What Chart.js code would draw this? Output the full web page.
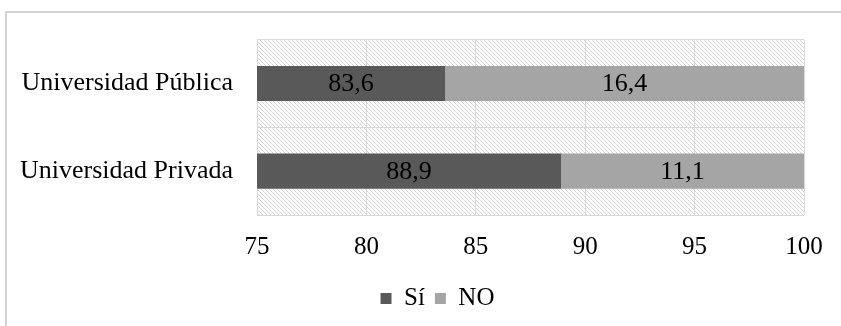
<!DOCTYPE html>
<html>
<head>
<meta charset="utf-8">
<script src="https://cdn.jsdelivr.net/npm/chart.js@4/dist/chart.umd.min.js"></script>
<style>
  html, body { margin: 0; padding: 0; background: #ffffff; }
  #wrap { width: 841px; height: 326px; position: relative; }
</style>
</head>
<body>
<div id="wrap"><canvas id="c" width="841" height="326"></canvas></div>
<script>
// Categories and series
const categories = ['Universidad Pública', 'Universidad Privada'];
const seriesNames = ['Sí', 'NO'];
const siValues = [83.6, 88.9];
const noValues = [16.4, 11.1];
const xTicks = [75, 80, 85, 90, 95, 100];

const FONT = "'Liberation Serif', 'Times New Roman', serif";

// Diagonal hatch used as the plot-area background
function makeHatch() {
  const p = 4;
  const c = document.createElement('canvas');
  c.width = p; c.height = p;
  const g = c.getContext('2d');
  g.fillStyle = '#ffffff';
  g.fillRect(0, 0, p, p);
  g.strokeStyle = '#d6d6d6';
  g.lineWidth = 1;
  for (const k of [-p, 0, p]) {
    g.beginPath();
    g.moveTo(k, 0);
    g.lineTo(k + p, p);
    g.stroke();
  }
  return c;
}

const hatchBackground = {
  id: 'hatchBackground',
  beforeDraw(chart) {
    const { ctx, chartArea: a } = chart;
    ctx.save();
    // outer frame of the figure
    ctx.strokeStyle = '#d4d4d4';
    ctx.lineWidth = 2;
    ctx.strokeRect(6, 12, 900, 400);
    // hatched plot area
    ctx.fillStyle = ctx.createPattern(makeHatch(), 'repeat');
    ctx.fillRect(a.left, a.top, a.right - a.left, a.bottom - a.top);
    ctx.restore();
  }
};

// Moves the legend block so it sits centred under the plot
const legendShift = {
  id: 'legendShift',
  afterLayout(chart) {
    const lg = chart.legend;
    if (!lg) return;
    const dx = 33;
    lg.left += dx;
    lg.right += dx;
  }
};

// Value labels centred on the visible part of each bar
const barValueLabels = {
  id: 'barValueLabels',
  afterDatasetsDraw(chart) {
    const { ctx, chartArea: a } = chart;
    ctx.save();
    ctx.font = '26px ' + FONT;
    ctx.fillStyle = '#000000';
    ctx.textAlign = 'center';
    ctx.textBaseline = 'middle';
    chart.data.datasets.forEach((ds, di) => {
      const meta = chart.getDatasetMeta(di);
      meta.data.forEach((bar, i) => {
        const left = Math.max(Math.min(bar.base, bar.x), a.left);
        const right = Math.min(Math.max(bar.base, bar.x), a.right);
        const txt = ds.data[i].toFixed(1).replace('.', ',');
        ctx.fillText(txt, (left + right) / 2, bar.y + 1);
      });
    });
    ctx.restore();
  }
};

new Chart(document.getElementById('c'), {
  type: 'bar',
  data: {
    labels: categories,
    datasets: [
      { label: seriesNames[0], data: siValues, backgroundColor: '#595959', barPercentage: 0.4, categoryPercentage: 1.0 },
      { label: seriesNames[1], data: noValues, backgroundColor: '#a5a5a5', barPercentage: 0.4, categoryPercentage: 1.0 }
    ]
  },
  options: {
    indexAxis: 'y',
    responsive: false,
    animation: false,
    layout: { padding: { left: 5, right: 37, top: 37, bottom: 5 } },
    scales: {
      x: {
        stacked: true,
        min: 75,
        max: 100,
        afterBuildTicks(scale) { scale.ticks = xTicks.map(v => ({ value: v })); },
        afterFit(scale) { scale.height = 61; },
        border: { display: false },
        grid: { color: '#d9d9d9', lineWidth: 1, drawTicks: false },
        ticks: { color: '#000000', padding: 17, font: { family: FONT, size: 25 } }
      },
      y: {
        stacked: true,
        afterFit(scale) { scale.width = 252; },
        border: { display: true, color: '#d9d9d9' },
        grid: { color: '#d9d9d9', lineWidth: 1, drawTicks: false, offset: true },
        ticks: { color: '#000000', padding: 24, font: { family: FONT, size: 26 } }
      }
    },
    plugins: {
      legend: {
        position: 'bottom',
        labels: {
          color: '#000000',
          boxWidth: 11,
          boxHeight: 11,
          padding: 10,
          font: { family: FONT, size: 25 }
        }
      },
      tooltip: { enabled: false }
    }
  },
  plugins: [hatchBackground, legendShift, barValueLabels]
});
</script>
</body>
</html>
